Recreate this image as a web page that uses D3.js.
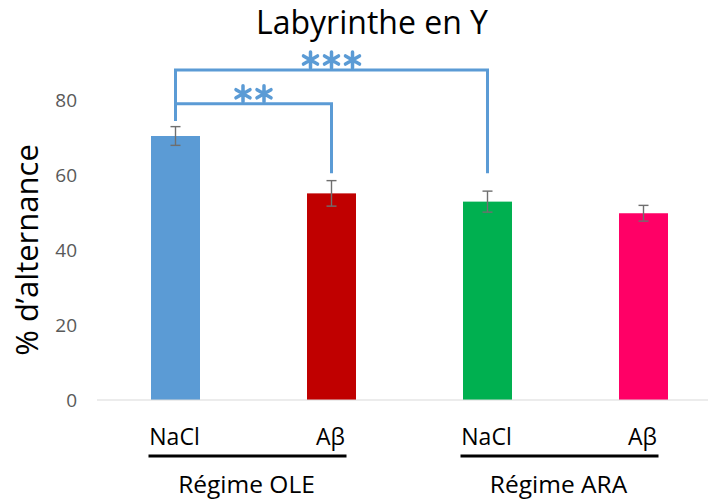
<!DOCTYPE html>
<html>
<head>
<meta charset="utf-8">
<script src="https://cdn.jsdelivr.net/npm/d3@7"></script>
<style>
  html, body { margin: 0; padding: 0; background: #fff; }
  svg { display: block; font-family: "Open Sans", "DejaVu Sans", sans-serif; }
</style>
</head>
<body>
<svg id="chart" width="708" height="499"></svg>
<script>
// Treatment per bar, and the diet group each bar belongs to
const categories = ["NaCl", "Aβ", "NaCl", "Aβ"];
const groups = ["Régime OLE", "Régime ARA"];
const groupOf = [0, 0, 1, 1];
// Mean spontaneous alternation (%) and its error
const values = [70.4, 55.1, 52.9, 49.8];
const errors = [2.5, 3.4, 2.8, 2.1];
const colors = ["#5b9bd5", "#c00000", "#00b050", "#ff0066"];
const yTicks = [0, 20, 40, 60, 80];
// Significance comparisons (bar indices) with bracket level in % units
const comparisons = [
  { a: 0, b: 1, level: 79, stars: 2 },
  { a: 0, b: 2, level: 88, stars: 3 }
];
const bracketStart = 74.4;   // height where the left leg begins
const bracketEnd = 60.5;     // height where the right leg ends

const svg = d3.select("#chart");
const idx = categories.map((_, i) => i);

const x = d3.scaleBand()
  .domain(idx)
  .range([97.5, 721.5])
  .paddingInner(0.686)
  .paddingOuter(0.343);

const y = d3.scaleLinear().domain([0, 80]).range([400, 100]);
const cx = i => x(i) + x.bandwidth() / 2;

// Title
svg.append("text")
  .attr("x", 372).attr("y", 34)
  .attr("text-anchor", "middle")
  .attr("font-size", 32)
  .attr("fill", "#000")
  .text("Labyrinthe en Y");

// Y axis: tick labels only, no line
const yAxis = d3.axisLeft(y).tickValues(yTicks).tickSize(0).tickPadding(0);
const gy = svg.append("g").attr("transform", "translate(77,0)").call(yAxis);
gy.select(".domain").remove();
gy.selectAll("text")
  .attr("font-family", "'Open Sans', sans-serif")
  .attr("font-size", 19)
  .attr("fill", "#595959");

// Y axis title
svg.append("text")
  .attr("transform", "translate(38,250) rotate(-90)")
  .attr("text-anchor", "middle")
  .attr("font-size", 31)
  .attr("fill", "#000")
  .text("% d’alternance");

// Bars
svg.append("g").selectAll("rect")
  .data(idx)
  .join("rect")
  .attr("x", i => x(i))
  .attr("width", x.bandwidth())
  .attr("y", i => y(values[i]))
  .attr("height", i => y(0) - y(values[i]))
  .attr("fill", i => colors[i]);

// Baseline
svg.append("line")
  .attr("x1", 97).attr("x2", 721.5)
  .attr("y1", y(0)).attr("y2", y(0))
  .attr("stroke", "#d9d9d9").attr("stroke-width", 1);

// Error bars
const eb = svg.append("g").attr("stroke", "#6f6f6f").attr("stroke-width", 1.4);
idx.forEach(i => {
  const top = y(values[i] + errors[i]);
  const bot = y(values[i] - errors[i]);
  eb.append("line").attr("x1", cx(i)).attr("x2", cx(i)).attr("y1", top).attr("y2", bot);
  eb.append("line").attr("x1", cx(i) - 5).attr("x2", cx(i) + 5).attr("y1", top).attr("y2", top);
  eb.append("line").attr("x1", cx(i) - 5).attr("x2", cx(i) + 5).attr("y1", bot).attr("y2", bot);
});

// Significance brackets
const sig = svg.append("g");
const star = d3.symbol().type(d3.symbolAsterisk).size(185);
comparisons.forEach(c => {
  const x1 = cx(c.a), x2 = cx(c.b), yl = y(c.level);
  sig.append("path")
    .attr("d", `M${x1},${y(bracketStart)}V${yl}H${x2}V${y(bracketEnd)}`)
    .attr("fill", "none")
    .attr("stroke", "#5b9bd5")
    .attr("stroke-width", 3);
  const mid = (x1 + x2) / 2;
  const spacing = 21;
  d3.range(c.stars).forEach(k => {
    const sx = mid + (k - (c.stars - 1) / 2) * spacing;
    sig.append("path")
      .attr("d", star())
      .attr("transform", `translate(${sx},${yl - 10})`)
      .attr("fill", "none")
      .attr("stroke", "#5b9bd5")
      .attr("stroke-width", 3.5)
      .attr("stroke-linecap", "round");
  });
});

// Category labels
svg.append("g").selectAll("text")
  .data(idx)
  .join("text")
  .attr("x", i => cx(i) - 1)
  .attr("y", 445)
  .attr("text-anchor", "middle")
  .attr("font-size", 23)
  .attr("fill", "#000")
  .text(i => categories[i]);

// Group underlines and group names
groups.forEach((g, gi) => {
  const members = idx.filter(i => groupOf[i] === gi);
  const first = cx(members[0]), last = cx(members[members.length - 1]);
  svg.append("line")
    .attr("x1", first - 27).attr("x2", last + 15)
    .attr("y1", 456).attr("y2", 456)
    .attr("stroke", "#000").attr("stroke-width", 3);
  svg.append("text")
    .attr("x", (first + last) / 2 - 7)
    .attr("y", 493)
    .attr("text-anchor", "middle")
    .attr("font-size", 24.5)
    .attr("fill", "#000")
    .text(g);
});
</script>
</body>
</html>
